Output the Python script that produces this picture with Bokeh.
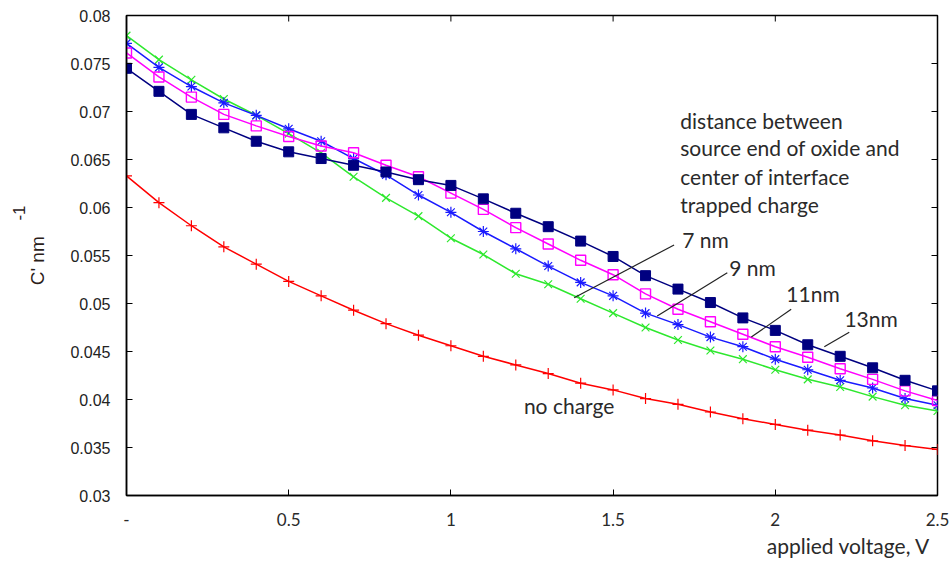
from bokeh.plotting import figure
from bokeh.models import Range1d, FixedTicker, Title
from bokeh.embed import file_html
from bokeh.resources import INLINE
from bokeh.core.properties import value

# ---------------- data ----------------
voltage = [0.0, 0.1, 0.2, 0.3, 0.4, 0.5, 0.6, 0.7, 0.8, 0.9, 1.0, 1.1, 1.2,
           1.3, 1.4, 1.5, 1.6, 1.7, 1.8, 1.9, 2.0, 2.1, 2.2, 2.3, 2.4, 2.5]

c_13nm = [0.0745, 0.0721, 0.0697, 0.0683, 0.0669, 0.0658, 0.0651, 0.0644, 0.0637,
          0.0629, 0.0623, 0.0609, 0.0594, 0.0580, 0.0565, 0.0549, 0.0529, 0.0515,
          0.0501, 0.0485, 0.0472, 0.0457, 0.0445, 0.0433, 0.0420, 0.0409]
c_11nm = [0.0761, 0.0736, 0.0715, 0.0697, 0.0685, 0.0674, 0.0664, 0.0657, 0.0644,
          0.0632, 0.0615, 0.0598, 0.0579, 0.0562, 0.0545, 0.0530, 0.0510, 0.0494,
          0.0481, 0.0468, 0.0455, 0.0444, 0.0432, 0.0421, 0.0409, 0.0399]
c_9nm = [0.0771, 0.0746, 0.0726, 0.0709, 0.0696, 0.0682, 0.0669, 0.0651, 0.0634,
         0.0613, 0.0595, 0.0575, 0.0557, 0.0539, 0.0522, 0.0508, 0.0490, 0.0478,
         0.0465, 0.0455, 0.0442, 0.0431, 0.0420, 0.0412, 0.0401, 0.0394]
c_7nm = [0.0779, 0.0754, 0.0733, 0.0713, 0.0696, 0.0677, 0.0657, 0.0632, 0.0610,
         0.0591, 0.0568, 0.0551, 0.0531, 0.0520, 0.0505, 0.0490, 0.0475, 0.0462,
         0.0451, 0.0442, 0.0431, 0.0421, 0.0413, 0.0403, 0.0394, 0.0388]
c_no_charge = [0.0633, 0.0605, 0.0581, 0.0559, 0.0541, 0.0523, 0.0508, 0.0493, 0.0479,
               0.0467, 0.0456, 0.0445, 0.0436, 0.0427, 0.0417, 0.0410, 0.0401, 0.0395,
               0.0387, 0.0380, 0.0374, 0.0368, 0.0363, 0.0357, 0.0352, 0.0348]

x_ticks = [0.0, 0.5, 1.0, 1.5, 2.0, 2.5]
x_tick_labels = ["-", "0.5", "1", "1.5", "2", "2.5"]
y_ticks = [0.03, 0.035, 0.04, 0.045, 0.05, 0.055, 0.06, 0.065, 0.07, 0.075, 0.08]
y_tick_labels = ["0.03", "0.035", "0.04", "0.045", "0.05", "0.055", "0.06",
                 "0.065", "0.07", "0.075", "0.08"]

x_title = "applied voltage, V"
y_title = "C'   nm"
y_title_sup = "-1"

# annotation texts (data coordinates)
note_lines = ["distance between", "source end of oxide and",
              "center of interface", "trapped charge"]
note_x = [1.707, 1.707, 1.707, 1.707]
note_y = [0.0691, 0.0662, 0.0632, 0.0603]

curve_labels = ["7 nm", "9 nm", "11nm", "13nm", "no charge"]
curve_label_x = [1.713, 1.858, 2.034, 2.213, 1.225]
curve_label_y = [0.0567, 0.0538, 0.0510, 0.0484, 0.0394]

leader_x0 = [1.380, 1.636, 1.926, 2.151]
leader_y0 = [0.0506, 0.0487, 0.0465, 0.0455]
leader_x1 = [1.688, 1.852, 2.049, 2.228]
leader_y1 = [0.0561, 0.0532, 0.0494, 0.0470]

X_MIN, X_MAX = 0.0, 2.5
Y_MIN, Y_MAX = 0.03, 0.08

# ---------------- figure ----------------
W, H = 950, 560
p = figure(width=W, height=H,
           x_range=Range1d(X_MIN, X_MAX), y_range=Range1d(Y_MIN, Y_MAX),
           output_backend="svg", toolbar_location=None,
           min_border_left=126, min_border_right=W - 937, min_border_top=15,
           min_border_bottom=H - 497)
p.background_fill_color = "white"
p.border_fill_color = "white"
p.grid.visible = False
p.outline_line_color = "black"
p.outline_line_width = 1.5

TICKFONT_Y = "Liberation Sans"
TICKFONT_X = "Lato"
ANN_FONT = "Lato"
TXT = "#2a2a2a"
YT_COLOR = "#2a2018"

xa = p.xaxis[0]
xa.ticker = FixedTicker(ticks=x_ticks)
xa.major_label_overrides = {t: l for t, l in zip(x_ticks, x_tick_labels)}
xa.major_tick_in = 6
xa.major_tick_out = 0
xa.minor_tick_line_color = None
xa.axis_line_color = "black"
xa.axis_line_width = 1.5
xa.major_label_text_font = TICKFONT_X
xa.major_label_text_font_size = "17px"
xa.major_label_text_color = TXT
xa.major_label_standoff = 17

ya = p.yaxis[0]
ya.ticker = FixedTicker(ticks=y_ticks)
ya.major_label_overrides = {t: l for t, l in zip(y_ticks, y_tick_labels)}
ya.major_tick_in = 6
ya.major_tick_out = 0
ya.minor_tick_line_color = None
ya.axis_line_color = "black"
ya.axis_line_width = 1.5
ya.major_label_text_font = TICKFONT_Y
ya.major_label_text_font_size = "16px"
ya.major_label_text_color = "#222222"
ya.major_label_standoff = 16
ya.axis_label = y_title
ya.axis_label_text_font = "Liberation Sans"
ya.axis_label_text_font_size = "19px"
ya.axis_label_text_font_style = "normal"
ya.axis_label_text_color = YT_COLOR
ya.axis_label_standoff = 19

# mirrored ticks on the right and top edges (clipped to the frame -> inward half)
p.scatter(x=[X_MAX] * len(y_ticks), y=y_ticks, marker="dash", size=12,
          line_color="black", line_width=1)
p.scatter(x=x_ticks, y=[Y_MAX] * len(x_ticks), marker="dash", size=12, angle=1.5708,
          line_color="black", line_width=1)

# ---------------- series ----------------
LW = 1.5
p.line(voltage, c_no_charge, color="#ff0000", line_width=LW)
p.scatter(voltage, c_no_charge, marker="cross", size=11, line_color="#ff0000", line_width=1.2)

p.line(voltage, c_7nm, color="#2ee82e", line_width=LW)
p.scatter(voltage, c_7nm, marker="x", size=11, line_color="#2ee82e", line_width=1.2)

p.line(voltage, c_9nm, color="#1a1aff", line_width=LW)
p.scatter(voltage, c_9nm, marker="asterisk", size=11, line_color="#1a1aff", line_width=1.2)

p.line(voltage, c_11nm, color="#ff00ff", line_width=LW)
p.scatter(voltage, c_11nm, marker="square", size=10, line_color="#ff00ff",
          fill_color=None, line_width=1.4)

p.line(voltage, c_13nm, color="#000080", line_width=LW)
p.scatter(voltage, c_13nm, marker="square", size=10, line_color="#000080",
          fill_color="#000080")

# ---------------- annotations ----------------
p.segment(x0=leader_x0, y0=leader_y0, x1=leader_x1, y1=leader_y1,
          line_color="#222222", line_width=1.2)

p.text(x=note_x, y=note_y, text=note_lines, text_font=value(ANN_FONT),
       text_font_size="21px", text_color=TXT, text_baseline="middle",
       text_align="left")
p.text(x=curve_label_x, y=curve_label_y, text=curve_labels, text_font=value(ANN_FONT),
       text_font_size="21px", text_color=TXT, text_baseline="middle",
       text_align="left")

# axis titles
p.add_layout(Title(text=x_title, align="right", text_font=ANN_FONT,
                   text_font_size="21px", text_font_style="normal",
                   text_color=TXT, standoff=5, offset=7), "below")
# superscript "-1" of the y title, in the panel just outside the y axis
p.add_layout(Title(text=y_title_sup, align="right", text_font="Liberation Sans",
                   text_font_size="17px", text_font_style="normal",
                   text_color=YT_COLOR, standoff=0, offset=190), "left")

open("out.html", "w").write(file_html(p, INLINE))
